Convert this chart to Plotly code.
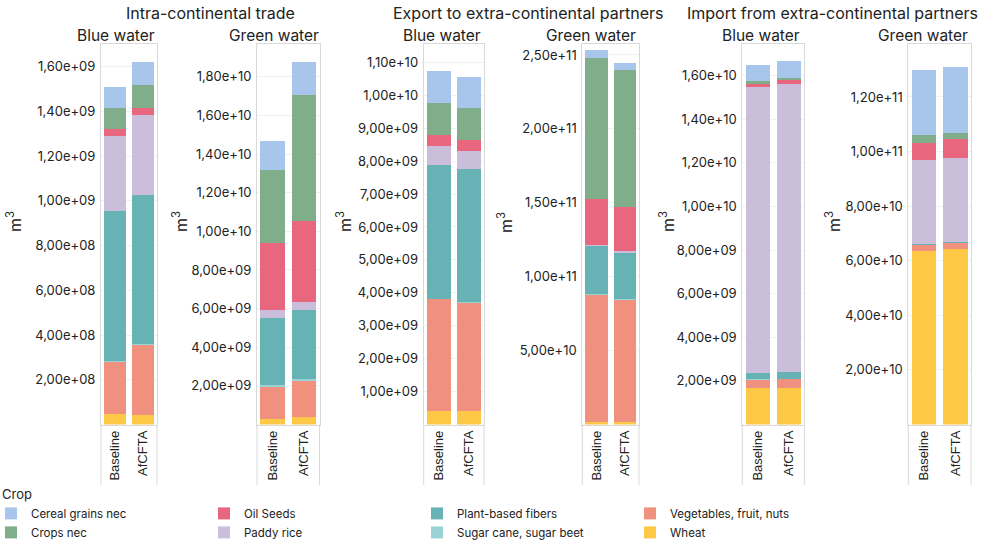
import plotly.graph_objects as go

# ---------------- data ----------------
scenarios = ["Baseline", "AfCFTA"]
# stacking order, bottom -> top
crops = ["Wheat", "Vegetables, fruit, nuts", "Sugar cane, sugar beet", "Plant-based fibers",
         "Paddy rice", "Oil Seeds", "Crops nec", "Cereal grains nec"]
crop_colors = ["#fec847", "#f0907e", "#9ad3d3", "#66b2b4",
               "#cbbedb", "#e8677e", "#80ae8b", "#a8c5ec"]
legend_rank = [8, 4, 7, 3, 6, 2, 5, 1]

intra_blue_baseline = [0.048e9, 0.232e9, 0.006e9, 0.667e9, 0.338e9, 0.031e9, 0.094e9, 0.093e9]
intra_blue_afcfta = [0.044e9, 0.312e9, 0.004e9, 0.668e9, 0.357e9, 0.031e9, 0.102e9, 0.103e9]
intra_green_baseline = [0.31e9, 1.66e9, 0.05e9, 3.51e9, 0.41e9, 3.46e9, 3.76e9, 1.50e9]
intra_green_afcfta = [0.37e9, 1.91e9, 0.05e9, 3.61e9, 0.41e9, 4.18e9, 6.55e9, 1.66e9]
export_blue_baseline = [0.40e9, 3.41e9, 0.01e9, 4.06e9, 0.58e9, 0.34e9, 0.97e9, 0.98e9]
export_blue_afcfta = [0.40e9, 3.31e9, 0.01e9, 4.05e9, 0.55e9, 0.33e9, 0.95e9, 0.97e9]
export_green_baseline = [0.20e10, 8.54e10, 0.06e10, 3.31e10, 0.05e10, 3.11e10, 9.53e10, 0.54e10]
export_green_afcfta = [0.20e10, 8.25e10, 0.03e10, 3.16e10, 0.07e10, 3.02e10, 9.26e10, 0.47e10]
import_blue_baseline = [1.67e9, 0.39e9, 0.01e9, 0.28e9, 13.15e9, 0.14e9, 0.10e9, 0.77e9]
import_blue_afcfta = [1.67e9, 0.41e9, 0.01e9, 0.31e9, 13.24e9, 0.18e9, 0.09e9, 0.78e9]
import_green_baseline = [6.37e10, 0.20e10, 0.02e10, 0.04e10, 3.07e10, 0.63e10, 0.29e10, 2.38e10]
import_green_afcfta = [6.44e10, 0.20e10, 0.01e10, 0.05e10, 3.08e10, 0.69e10, 0.22e10, 2.42e10]

group_titles = ["Intra-continental trade", "Export to extra-continental partners",
                "Import from extra-continental partners"]
water_titles = ["Blue water", "Green water"] * 3

tick_values = [
    [i * 2e8 for i in range(1, 9)],
    [i * 2e9 for i in range(1, 10)],
    [i * 1e9 for i in range(1, 12)],
    [i * 5e10 for i in range(1, 6)],
    [i * 2e9 for i in range(1, 9)],
    [i * 2e10 for i in range(1, 7)],
]
y_max = [1.70e9, 1.968e10, 1.155e10, 2.572e11, 1.744e10, 1.393e11]

panels = [
    (intra_blue_baseline, intra_blue_afcfta),
    (intra_green_baseline, intra_green_afcfta),
    (export_blue_baseline, export_blue_afcfta),
    (export_green_baseline, export_green_afcfta),
    (import_blue_baseline, import_blue_afcfta),
    (import_green_baseline, import_green_afcfta),
]


def fmt(v):
    return f"{v:.2e}".replace(".", ",")


# ---------------- layout geometry (pixels) ----------------
W, H = 983, 547
frames = [(101, 157), (257, 319.5), (423.7, 484), (582.3, 639), (742.3, 804.3), (908.3, 971)]
top_px, bot_px = 44.3, 424.5
ytitle_x = [14, 180, 344, 505, 667, 833]
group_title_x = [210, 527.5, 832.5]
sub_title_right = [157, 321, 483, 638, 802, 970]

px = lambda x: x / W
py = lambda y: 1 - y / H

AX_FONT = "Inter"
TXT = "#222222"
FRAME = "#d9d9d9"

fig = go.Figure()
for p, (base, afc) in enumerate(panels):
    ax = "" if p == 0 else str(p + 1)
    for c, crop in enumerate(crops):
        fig.add_trace(go.Bar(
            x=scenarios, y=[base[c], afc[c]], name=crop,
            marker=dict(color=crop_colors[c], line=dict(width=0)),
            xaxis="x" + ax, yaxis="y" + ax,
            legendgroup=crop, showlegend=(p == 0), legendrank=legend_rank[c],
            hovertemplate=crop + ": %{y:.3e}<extra></extra>",
        ))

layout = dict(
    width=W, height=H, margin=dict(l=0, r=0, t=0, b=0),
    barmode="stack", bargap=0.22,
    plot_bgcolor="white", paper_bgcolor="white",
    font=dict(family=AX_FONT, color=TXT, size=13),
    showlegend=True,
    legend=dict(orientation="h", x=0, xanchor="left", y=0, yanchor="bottom",
                entrywidth=177, entrywidthmode="pixels", indentation=-9,
                title=dict(text="Crop", side="top", font=dict(size=13, color=TXT)),
                font=dict(size=11.5, color=TXT), bgcolor="rgba(0,0,0,0)",
                tracegroupgap=0, itemclick=False, itemdoubleclick=False),
)
shapes = []
annotations = []
for p in range(6):
    ax = "" if p == 0 else str(p + 1)
    l, r = frames[p]
    layout["xaxis" + ax] = dict(
        domain=[px(l), px(r)], anchor="y" + ax, showline=True, mirror=True, linecolor=FRAME,
        linewidth=1, ticks="", tickangle=-90, showgrid=False,
        tickfont=dict(family="Liberation Sans", size=13, color=TXT),
        categoryorder="array", categoryarray=scenarios, fixedrange=True,
    )
    layout["yaxis" + ax] = dict(
        domain=[py(bot_px), py(top_px)], anchor="x" + ax, range=[0, y_max[p]],
        showline=True, mirror=True, linecolor=FRAME, linewidth=1,
        showgrid=True, gridcolor="#f1f1f1", gridwidth=1, zeroline=False, ticks="",
        tickvals=tick_values[p], ticktext=[fmt(v) for v in tick_values[p]],
        tickfont=dict(family=AX_FONT, size=13, color=TXT), ticklabelstandoff=2,
        fixedrange=True,
    )
    for xx in (l, r):
        shapes.append(dict(type="line", xref="paper", yref="paper", x0=px(xx), x1=px(xx),
                           y0=py(bot_px), y1=py(485), line=dict(color=FRAME, width=1)))
    annotations.append(dict(text="m<sup>3</sup>", x=px(ytitle_x[p]), y=py(222), xref="paper",
                            yref="paper", showarrow=False, textangle=-90,
                            font=dict(family=AX_FONT, size=16, color=TXT),
                            xanchor="center", yanchor="middle"))
    annotations.append(dict(text=water_titles[p], x=px(sub_title_right[p]), y=py(35),
                            xref="paper", yref="paper", showarrow=False, xanchor="right",
                            yanchor="middle", font=dict(family=AX_FONT, size=15.5, color=TXT)))
for g in range(3):
    annotations.append(dict(text=group_titles[g], x=px(group_title_x[g]), y=py(13),
                            xref="paper", yref="paper", showarrow=False, xanchor="center",
                            yanchor="middle", font=dict(family=AX_FONT, size=16, color=TXT)))
layout["shapes"] = shapes
layout["annotations"] = annotations
fig.update_layout(**layout)
fig.write_html("out.html")
